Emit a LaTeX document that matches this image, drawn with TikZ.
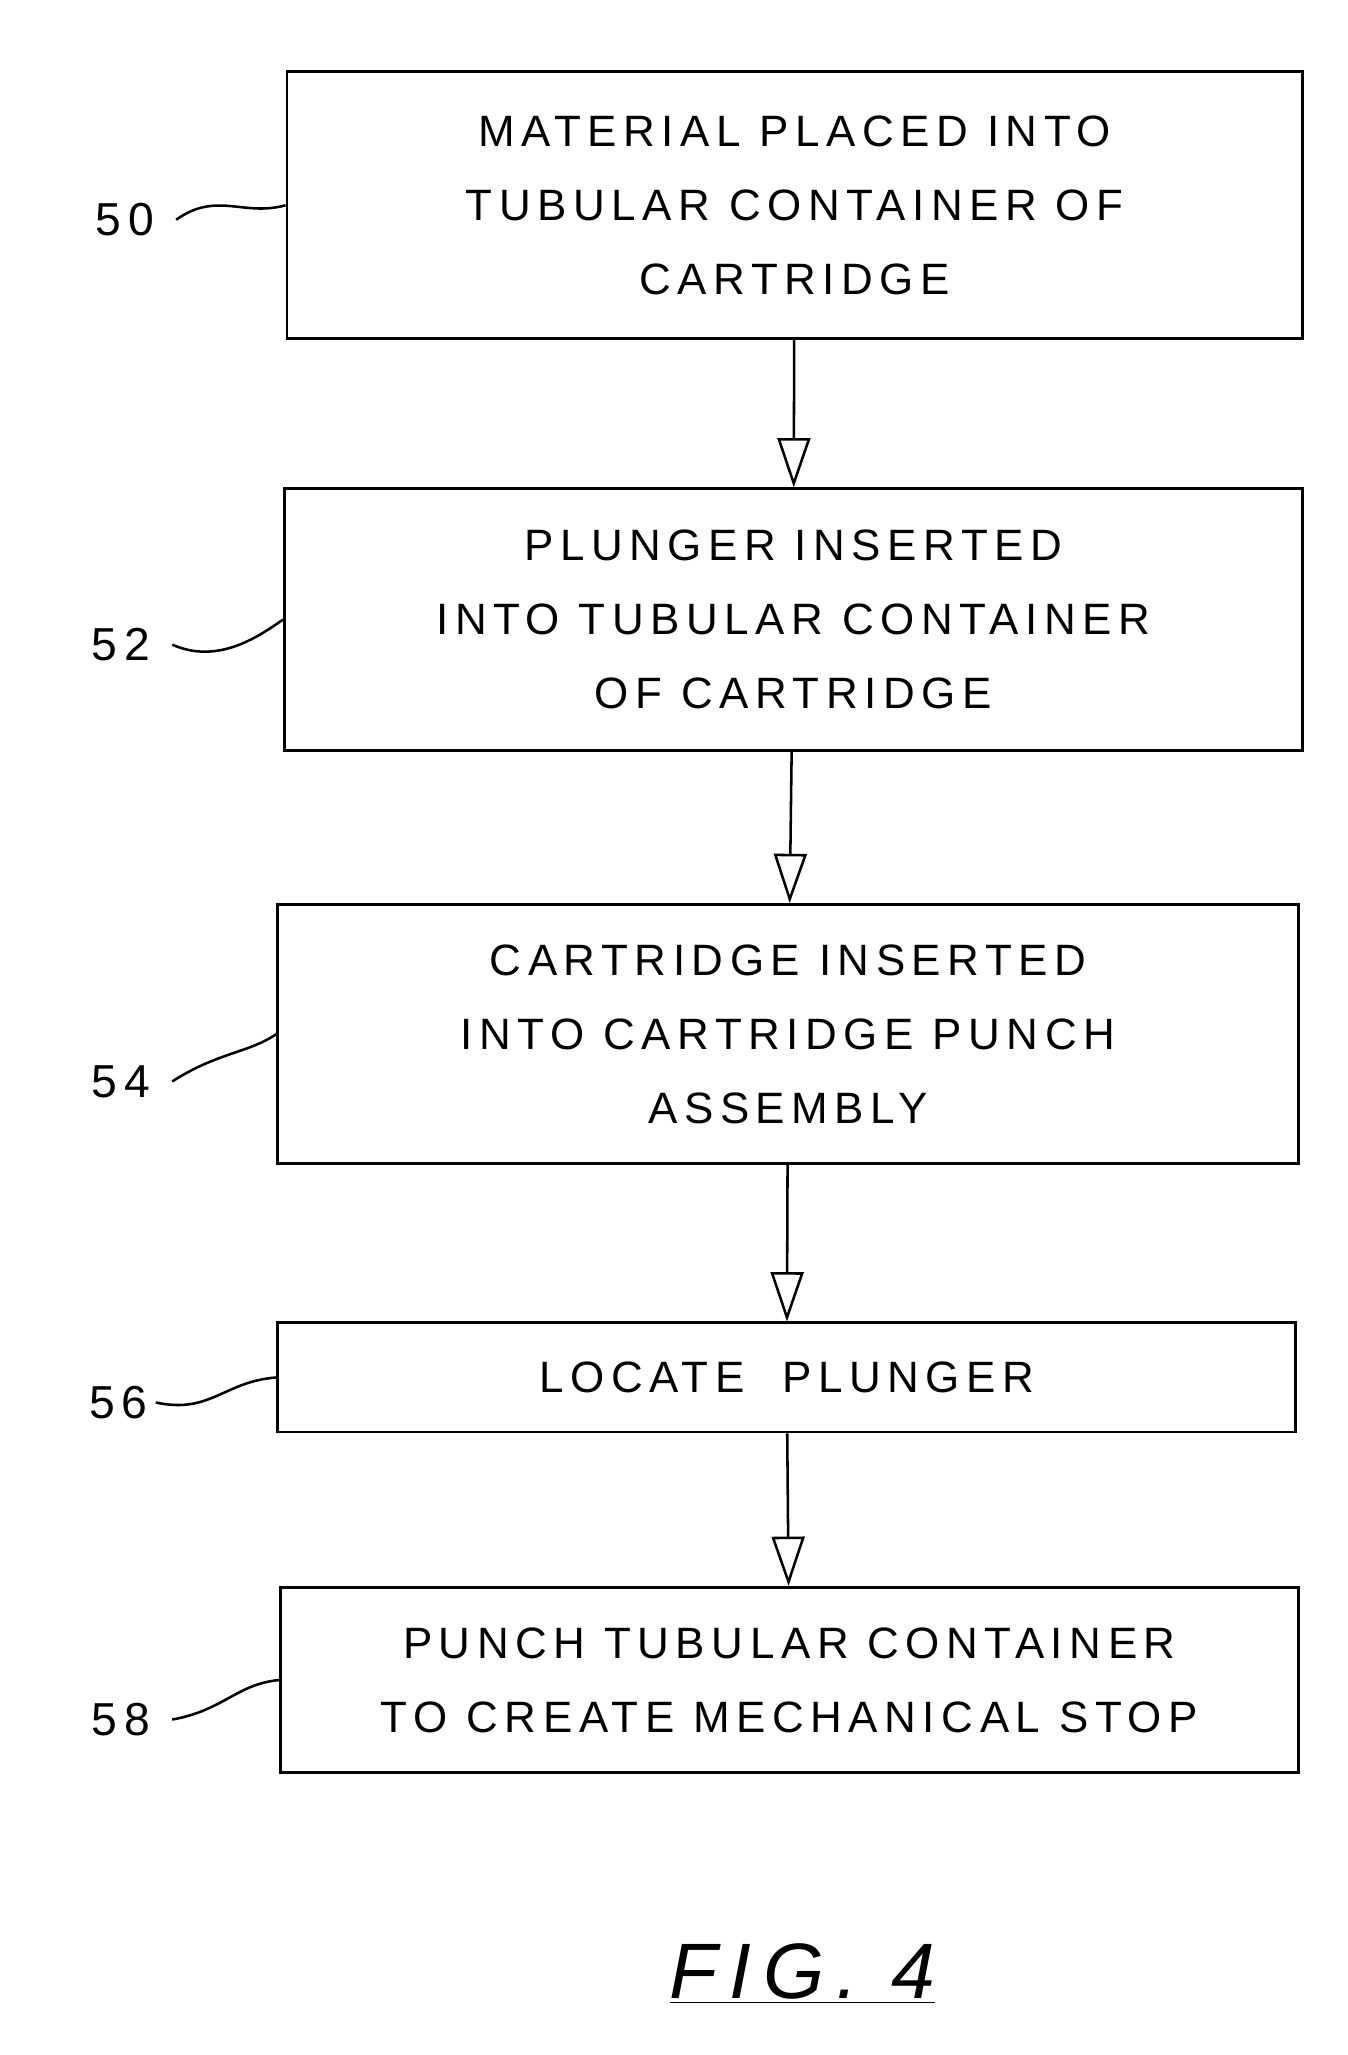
\documentclass[tikz,border=0pt]{standalone}
\usepackage{fontspec}
\setmainfont{Liberation Sans}[LetterSpace=15]
\usetikzlibrary{arrows.meta}
\begin{document}
\begin{tikzpicture}[x=0.02cm, y=-0.02cm, font=\fontsize{19}{32}\selectfont,
  stage/.style={draw, line width=1.2pt, align=center, inner sep=0pt},
  flow/.style={line width=1.1pt, -{Triangle[open, length=0.75cm, width=0.5cm, line width=1.1pt]}},
  lead/.style={line width=1.1pt},
  num/.style={font=\fontsize{20}{22}\selectfont}]

	\useasboundingbox (0,0) rectangle (1024,1562);

	% steps
	\node[stage, minimum width=15.44cm, minimum height=4.06cm] (s50) at (604,156) {MATERIAL PLACED INTO\\TUBULAR CONTAINER OF\\CARTRIDGE};
	\node[stage, minimum width=15.48cm, minimum height=3.98cm] (s52) at (603,471) {PLUNGER INSERTED\\INTO TUBULAR CONTAINER\\OF CARTRIDGE};
	\node[stage, minimum width=15.52cm, minimum height=3.94cm] (s54) at (599,786) {CARTRIDGE INSERTED\\INTO CARTRIDGE PUNCH\\ASSEMBLY};
	\node[stage, minimum width=15.48cm, minimum height=1.66cm] (s56) at (598,1047) {LOCATE \ PLUNGER};
	\node[stage, minimum width=15.48cm, minimum height=2.82cm] (s58) at (600,1277) {PUNCH TUBULAR CONTAINER\\TO CREATE MECHANICAL STOP};

	% flow
	\draw[flow] (s50) -- (s52);
	\draw[flow] (s52) -- (s54);
	\draw[flow] (s54) -- (s56);
	\draw[flow] (s56) -- (s58);

	% reference numerals
	\node[num] (n50) at (95,167) {50};
	\node[num] (n52) at (92,490) {52};
	\node[num] (n54) at (92,822) {54};
	\node[num] (n56) at (90,1066) {56};
	\node[num] (n58) at (92,1307) {58};
	\draw[lead] ([xshift=6pt]n50.east) .. controls (165,145) and (185,165) .. (s50.west);
	\draw[lead] ([xshift=6pt]n52.east) .. controls (165,505) and (195,485) .. (s52.west);
	\draw[lead] ([xshift=6pt]n54.east) .. controls (165,800) and (190,800) .. (s54.west);
	\draw[lead] (n56.east) .. controls (160,1075) and (170,1050) .. (s56.west);
	\draw[lead] ([xshift=6pt]n58.east) .. controls (170,1300) and (180,1280) .. (s58.west);

	% figure label
	\node[font=\itshape\fontsize{34}{36}\selectfont] (fig) at (610,1500) {\underline{FIG. 4}};

\end{tikzpicture}
\end{document}
